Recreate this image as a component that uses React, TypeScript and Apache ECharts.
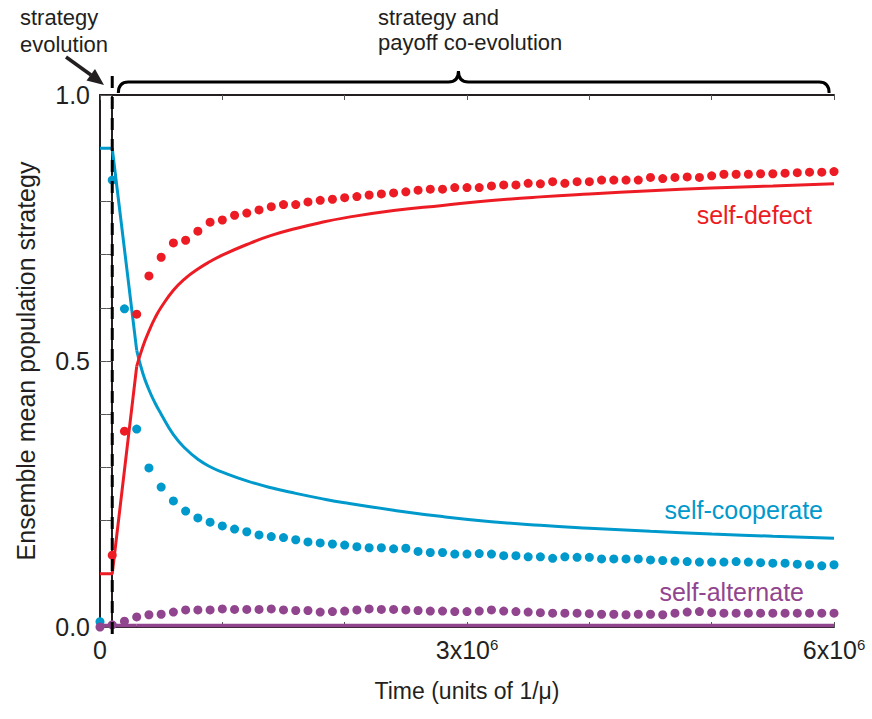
import React, { useEffect, useRef } from "react";
import * as echarts from "echarts";

// time in units of 10^6 (1/mu)
const dotTimes = [
  0, 0.1, 0.2, 0.3, 0.4, 0.5, 0.6, 0.7, 0.8, 0.9,
  1.0, 1.1, 1.2, 1.3, 1.4, 1.5, 1.6, 1.7, 1.8, 1.9,
  2.0, 2.1, 2.2, 2.3, 2.4, 2.5, 2.6, 2.7, 2.8, 2.9,
  3.0, 3.1, 3.2, 3.3, 3.4, 3.5, 3.6, 3.7, 3.8, 3.9,
  4.0, 4.1, 4.2, 4.3, 4.4, 4.5, 4.6, 4.7, 4.8, 4.9,
  5.0, 5.1, 5.2, 5.3, 5.4, 5.5, 5.6, 5.7, 5.8, 5.9, 6.0,
];

const defectDots: (number | null)[] = [
  null, 0.135, 0.368, 0.588, 0.66, 0.695, 0.722, 0.727, 0.744, 0.761,
  0.765, 0.774, 0.778, 0.784, 0.79, 0.794, 0.794, 0.799, 0.802, 0.804,
  0.807, 0.809, 0.812, 0.814, 0.816, 0.818, 0.821, 0.823, 0.823, 0.826,
  0.826, 0.826, 0.829, 0.831, 0.831, 0.834, 0.833, 0.837, 0.834, 0.837,
  0.837, 0.84, 0.84, 0.84, 0.84, 0.845, 0.843, 0.845, 0.846, 0.845,
  0.848, 0.851, 0.851, 0.851, 0.852, 0.852, 0.853, 0.854, 0.855, 0.855, 0.856,
];

const cooperateDots = [
  0.01, 0.84, 0.598, 0.372, 0.299, 0.263, 0.237, 0.218, 0.205, 0.197,
  0.19, 0.184, 0.179, 0.173, 0.17, 0.168, 0.164, 0.16, 0.158, 0.156,
  0.154, 0.151, 0.149, 0.149, 0.147, 0.148, 0.142, 0.14, 0.14, 0.137,
  0.137, 0.138, 0.137, 0.134, 0.134, 0.132, 0.132, 0.129, 0.132, 0.131,
  0.131, 0.128, 0.128, 0.128, 0.128, 0.126, 0.125, 0.124, 0.123, 0.122,
  0.122, 0.122, 0.123, 0.122, 0.121, 0.12, 0.12, 0.118, 0.117, 0.115, 0.117,
];

const alternateDots = [
  0.0, 0.004, 0.011, 0.019, 0.023, 0.024, 0.028, 0.032, 0.032, 0.032,
  0.034, 0.033, 0.033, 0.033, 0.034, 0.032, 0.031, 0.031, 0.028, 0.029,
  0.03, 0.032, 0.034, 0.033, 0.033, 0.032, 0.031, 0.03, 0.03, 0.029,
  0.029, 0.03, 0.032, 0.03, 0.029, 0.028, 0.027, 0.026, 0.026, 0.026,
  0.025, 0.024, 0.024, 0.023, 0.024, 0.024, 0.023, 0.026, 0.028, 0.029,
  0.027, 0.026, 0.026, 0.026, 0.026, 0.026, 0.026, 0.026, 0.026, 0.026, 0.026,
];

// mean-field lines; first three points form the straight initial segment
const lineTimes = [
  0, 0.1, 0.3, 0.35, 0.4, 0.45, 0.5, 0.6, 0.7, 0.8, 0.9, 1.0,
  1.2, 1.4, 1.6, 1.8, 2.0, 2.4, 2.8, 3.2, 3.6, 4.0, 4.5, 5.0, 5.5, 6.0,
];
const defectLine = [
  0.1, 0.1, 0.49, 0.527, 0.556, 0.581, 0.601, 0.633, 0.656, 0.673, 0.687, 0.699,
  0.719, 0.736, 0.749, 0.76, 0.769, 0.783, 0.7925, 0.8015, 0.8085, 0.814, 0.82, 0.825, 0.829, 0.833,
];
const cooperateLine = [
  0.9, 0.9, 0.52, 0.477, 0.446, 0.421, 0.4, 0.3615, 0.335, 0.3152, 0.3012, 0.2912,
  0.2748, 0.2617, 0.2512, 0.2418, 0.2335, 0.2195, 0.2075, 0.198, 0.1912, 0.1858, 0.1798, 0.1748, 0.1706, 0.167,
];
const alternateLine = [
  0.003, 0.003, 0.003, 0.003, 0.003, 0.003, 0.003, 0.003, 0.003, 0.003, 0.003, 0.003,
  0.003, 0.003, 0.003, 0.003, 0.003, 0.003, 0.003, 0.003, 0.003, 0.003, 0.003, 0.003, 0.003, 0.003,
];
const kinkIndex = 2;

const xLabelValues = [0, 3, 6];
const yLabelValues = [0, 0.5, 1];
const strategyPhaseEnd = 0.1;

const RED = "#ED1C24";
const BLUE = "#0099CC";
const PURPLE = "#92458F";
const INK = "#231F20";
const FONT = "'Liberation Sans', Arial, Helvetica, sans-serif";

const pairs = (xs: number[], ys: (number | null)[]) =>
  xs.map((x, i) => [x, ys[i]]).filter((p) => p[1] !== null);

export default function App() {
  const ref = useRef<HTMLDivElement>(null);

  useEffect(() => {
    const chart = echarts.init(ref.current!, null, { renderer: "svg" });

    const tickAxis = (position: string) => ({
      type: "value",
      min: -0.1,
      max: 5.9,
      interval: 1,
      position,
      axisLine: { show: position === "top", lineStyle: { color: INK, width: 2 } },
      axisTick: { show: true, inside: true, length: 5, lineStyle: { color: "#555", width: 1 } },
      axisLabel: { show: false },
      splitLine: { show: false },
    });

    const lineParts = (name: string, data: number[], color: string, width: number) => {
      const all = pairs(lineTimes, data);
      const base = {
        type: "line",
        xAxisIndex: 0,
        yAxisIndex: 0,
        showSymbol: false,
        clip: false,
        lineStyle: { color, width },
        z: 2,
      };
      return [
        { ...base, name: name + " (initial)", data: all.slice(0, kinkIndex + 1) },
        { ...base, name, data: all.slice(kinkIndex), smooth: 0.5 },
      ];
    };
    const dotSeries = (name: string, data: (number | null)[], color: string) => ({
      name,
      type: "scatter",
      data: pairs(dotTimes, data),
      xAxisIndex: 0,
      yAxisIndex: 0,
      symbol: "circle",
      symbolSize: 9,
      clip: false,
      itemStyle: { color, opacity: 1 },
      z: 3,
    });

    chart.setOption({
      animation: false,
      grid: { left: 100, right: 38, top: 95, bottom: 92 },
      xAxis: [
        {
          type: "value",
          min: 0,
          max: 6,
          interval: 3,
          position: "bottom",
          axisLine: { show: true, lineStyle: { color: INK, width: 2 } },
          axisTick: { show: false },
          splitLine: { show: false },
          axisLabel: {
            margin: 10,
            formatter: (v: number) =>
              xLabelValues.includes(v) ? (v === 0 ? "{a|0}" : `{a|${v}x10}{s|6}`) : "",
            rich: {
              a: { fontSize: 25, fontFamily: FONT, color: INK },
              s: { fontSize: 15, fontFamily: FONT, color: INK, verticalAlign: "top" },
            },
          },
          name: "Time (units of 1/μ)",
          nameLocation: "middle",
          nameGap: 52,
          nameTextStyle: { fontSize: 23, fontFamily: FONT, color: INK },
        },
        tickAxis("bottom"),
        tickAxis("top"),
      ],
      yAxis: [
        {
          type: "value",
          min: 0,
          max: 1,
          interval: 0.1,
          position: "left",
          axisLine: { show: true, lineStyle: { color: INK, width: 2 } },
          axisTick: { show: true, inside: true, length: 6, lineStyle: { color: "#555", width: 1 } },
          splitLine: { show: false },
          axisLabel: {
            margin: 10,
            fontSize: 25,
            fontFamily: FONT,
            color: INK,
            formatter: (v: number) =>
              yLabelValues.some((l) => Math.abs(l - v) < 1e-6) ? v.toFixed(1) : "",
          },
          name: "Ensemble mean population strategy",
          nameLocation: "middle",
          nameGap: 62,
          nameTextStyle: { fontSize: 25, fontFamily: FONT, color: INK },
        },
        {
          type: "value",
          min: 0,
          max: 1,
          interval: 0.1,
          position: "right",
          axisLine: { show: true, lineStyle: { color: INK, width: 2 } },
          axisTick: { show: true, inside: true, length: 6, lineStyle: { color: "#555", width: 1 } },
          splitLine: { show: false },
          axisLabel: { show: false },
        },
      ],
      series: [
        ...lineParts("self-cooperate line", cooperateLine, BLUE, 3),
        ...lineParts("self-defect line", defectLine, RED, 3),
        ...lineParts("self-alternate line", alternateLine, PURPLE, 3.5),
        dotSeries("self-cooperate", cooperateDots, BLUE),
        dotSeries("self-defect", defectDots, RED),
        dotSeries("self-alternate", alternateDots, PURPLE),
      ],
    });

    const px = (t: number) => chart.convertToPixel({ xAxisIndex: 0 }, t) as number;
    const dashX = px(strategyPhaseEnd);
    const xl = px(0.15);
    const xc = px(2.93);
    const xr = px(5.96);
    const yb = 82;
    const ye = 93;
    const yt = 71;
    const d =
      `M${xl},${ye} Q${xl},${yb} ${xl + 10},${yb} L${xc - 10},${yb} ` +
      `Q${xc},${yb} ${xc},${yt} Q${xc},${yb} ${xc + 10},${yb} ` +
      `L${xr - 10},${yb} Q${xr},${yb} ${xr},${ye}`;
    echarts.graphic.registerShape("brace", echarts.graphic.extendPath(d, {}) as any);

    const txt = (text: string, x: number, y: number, color: string, size: number, align = "left") => ({
      type: "text",
      x,
      y,
      z: 100,
      style: { text, fill: color, fontSize: size, fontFamily: FONT, align, verticalAlign: "middle" },
    });

    chart.setOption({
      graphic: [
        {
          type: "line",
          z: 100,
          shape: { x1: dashX, y1: 76, x2: dashX, y2: 643 },
          style: { stroke: "#000", lineWidth: 3, lineDash: [12, 9] },
        },
        {
          type: "brace",
          z: 100,
          style: { stroke: "#000", lineWidth: 3, fill: null },
        },
        {
          type: "line",
          z: 100,
          shape: { x1: 66, y1: 57, x2: 91, y2: 75 },
          style: { stroke: INK, lineWidth: 3.5 },
        },
        {
          type: "polygon",
          z: 100,
          shape: { points: [[104, 85], [86.5, 80.5], [95, 69]] },
          style: { fill: INK },
        },
        txt("strategy", 20, 17, INK, 22),
        txt("evolution", 20, 44, INK, 22),
        txt("strategy and", 378, 17, INK, 22),
        txt("payoff co-evolution", 378, 42, INK, 22),
        txt("self-defect", 812, 215, RED, 25, "right"),
        txt("self-cooperate", 823, 510, BLUE, 25, "right"),
        txt("self-alternate", 804, 592, PURPLE, 25, "right"),
      ],
    });

    return () => chart.dispose();
  }, []);

  return (
    <div
      ref={ref}
      style={{ position: "fixed", left: 0, top: 0, width: 872, height: 719, background: "#fff" }}
    />
  );
}
